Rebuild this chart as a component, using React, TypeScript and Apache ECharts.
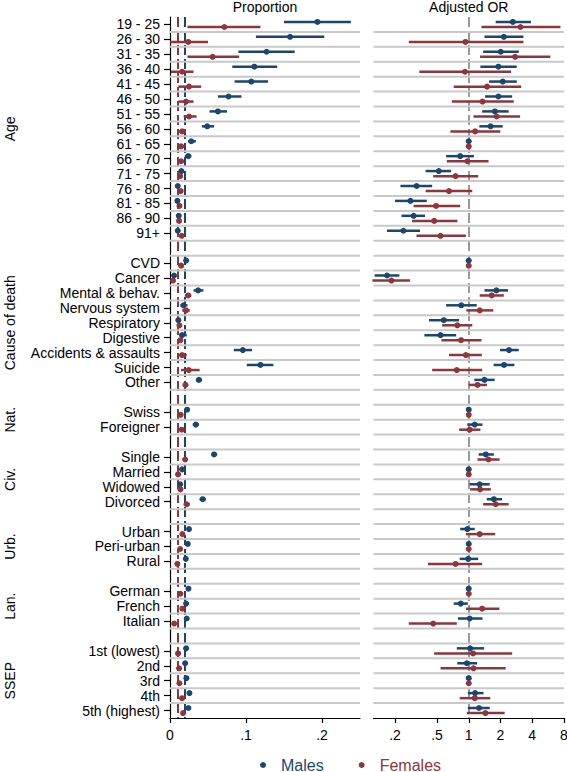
import React, { useEffect, useRef } from 'react';
import * as echarts from 'echarts';

const BLUE = '#1a476f';
const RED = '#90353b';
const GRIDLINE = '#c9c9c9';
const FONT = '"Liberation Sans", Arial, Helvetica, sans-serif';

// ---------- categories ----------
const groupNames = ['Age', 'Cause of death', 'Nat.', 'Civ.', 'Urb.', 'Lan.', 'SSEP'];
const ageLabels = ['19 - 25', '26 - 30', '31 - 35', '36 - 40', '41 - 45', '46 - 50', '51 - 55', '56 - 60',
  '61 - 65', '66 - 70', '71 - 75', '76 - 80', '81 - 85', '86 - 90', '91+'];
const causeLabels = ['CVD', 'Cancer', 'Mental & behav.', 'Nervous system', 'Respiratory', 'Digestive',
  'Accidents & assaults', 'Suicide', 'Other'];
const natLabels = ['Swiss', 'Foreigner'];
const civLabels = ['Single', 'Married', 'Widowed', 'Divorced'];
const urbLabels = ['Urban', 'Peri-urban', 'Rural'];
const lanLabels = ['German', 'French', 'Italian'];
const ssepLabels = ['1st (lowest)', '2nd', '3rd', '4th', '5th (highest)'];

// ---------- proportions [estimate, low, high] ----------
const maleProportion: number[][] = [
  [0.194, 0.150, 0.238], [0.158, 0.113, 0.203], [0.127, 0.090, 0.164], [0.111, 0.082, 0.141],
  [0.107, 0.085, 0.129], [0.077, 0.063, 0.094], [0.063, 0.052, 0.075], [0.049, 0.042, 0.058],
  [0.028, 0.024, 0.034], [0.024, 0.0195, 0.028], [0.015, 0.012, 0.0185], [0.0102, 0.009, 0.0115],
  [0.0097, 0.0087, 0.0107], [0.0115, 0.010, 0.013], [0.0102, 0.008, 0.0125],
  [0.0212, 0.020, 0.0225], [0.0053, 0.0045, 0.0062], [0.037, 0.031, 0.044], [0.0177, 0.0137, 0.023],
  [0.011, 0.0095, 0.0125], [0.0159, 0.0124, 0.022], [0.0958, 0.084, 0.108], [0.119, 0.101, 0.136],
  [0.038, 0.034, 0.042],
  [0.0225, 0.0218, 0.0232], [0.034, 0.030, 0.038],
  [0.058, 0.055, 0.062], [0.0159, 0.015, 0.017], [0.0133, 0.012, 0.0145], [0.043, 0.039, 0.047],
  [0.025, 0.024, 0.026], [0.0234, 0.022, 0.025], [0.0208, 0.0195, 0.022],
  [0.0243, 0.0235, 0.025], [0.0212, 0.019, 0.023], [0.022, 0.019, 0.025],
  [0.0212, 0.019, 0.024], [0.0199, 0.0185, 0.0215], [0.0216, 0.020, 0.023], [0.0256, 0.0235, 0.028],
  [0.0243, 0.022, 0.027],
];
const femaleProportion: number[][] = [
  [0.0715, 0.023, 0.119], [0.024, 0.0, 0.050], [0.056, 0.023, 0.091], [0.016, 0.001, 0.031],
  [0.025, 0.011, 0.041], [0.021, 0.011, 0.031], [0.025, 0.018, 0.035], [0.016, 0.011, 0.021],
  [0.0146, 0.011, 0.0185], [0.0146, 0.0115, 0.018], [0.0133, 0.011, 0.016], [0.0141, 0.0125, 0.016],
  [0.0124, 0.011, 0.014], [0.0119, 0.010, 0.014], [0.0155, 0.013, 0.018],
  [0.0146, 0.0135, 0.016], [0.004, 0.003, 0.005], [0.024, 0.0195, 0.028], [0.021, 0.016, 0.026],
  [0.0124, 0.010, 0.015], [0.0137, 0.011, 0.017], [0.0159, 0.012, 0.022], [0.0247, 0.0146, 0.039],
  [0.0203, 0.017, 0.024],
  [0.0141, 0.0135, 0.0147], [0.0155, 0.0125, 0.019],
  [0.0199, 0.017, 0.023], [0.0106, 0.0095, 0.0118], [0.0137, 0.0125, 0.015], [0.022, 0.018, 0.026],
  [0.0163, 0.0145, 0.019], [0.0133, 0.012, 0.015], [0.0097, 0.008, 0.012],
  [0.0137, 0.013, 0.0145], [0.0163, 0.015, 0.018], [0.0055, 0.0045, 0.0067],
  [0.0106, 0.009, 0.013], [0.0119, 0.0105, 0.0135], [0.0124, 0.011, 0.014], [0.0159, 0.014, 0.018],
  [0.0172, 0.0145, 0.020],
];
const maleOverall = 0.0238;
const femaleOverall = 0.0146;

// ---------- adjusted odds ratios [estimate, low, high] ----------
const maleOR: number[][] = [
  [2.62, 1.80, 3.89], [2.15, 1.41, 3.30], [2.01, 1.37, 2.98], [1.91, 1.29, 2.85],
  [2.10, 1.56, 2.85], [1.91, 1.43, 2.58], [1.77, 1.34, 2.39], [1.61, 1.26, 2.10],
  [1, 1, 1], [0.83, 0.61, 1.12], [0.52, 0.39, 0.68], [0.32, 0.225, 0.45],
  [0.28, 0.20, 0.40], [0.30, 0.23, 0.385], [0.24, 0.168, 0.345],
  [1, 1, 1], [0.168, 0.128, 0.22], [1.83, 1.41, 2.36], [0.85, 0.61, 1.19],
  [0.58, 0.42, 0.81], [0.54, 0.38, 0.76], [2.41, 1.98, 2.98], [2.16, 1.72, 2.71],
  [1.41, 1.13, 1.76],
  [1, 1, 1], [1.14, 0.97, 1.35],
  [1.45, 1.24, 1.73], [1, 1, 1], [1.27, 1.02, 1.58], [1.73, 1.48, 2.07],
  [0.97, 0.83, 1.14], [1, 1, 1], [0.99, 0.82, 1.23],
  [1, 1, 1], [0.84, 0.72, 0.98], [1.02, 0.79, 1.35],
  [1.03, 0.77, 1.40], [0.96, 0.78, 1.20], [1, 1, 1], [1.15, 0.98, 1.38], [1.25, 0.98, 1.58],
];
const femaleOR: number[][] = [
  [3.09, 1.32, 7.4], [0.93, 0.27, 3.30], [2.75, 1.28, 5.94], [0.92, 0.34, 2.52],
  [1.49, 0.72, 3.14], [1.35, 0.69, 2.67], [1.84, 1.11, 3.07], [1.15, 0.67, 1.99],
  [1, 1, 1], [0.97, 0.62, 1.54], [0.75, 0.46, 1.23], [0.65, 0.39, 1.08],
  [0.49, 0.30, 0.83], [0.47, 0.29, 0.78], [0.54, 0.32, 0.94],
  [1, 1, 1], [0.185, 0.122, 0.277], [1.65, 1.27, 2.15], [1.27, 0.95, 1.71],
  [0.78, 0.56, 1.08], [0.845, 0.55, 1.32], [0.94, 0.65, 1.33], [0.77, 0.45, 1.34],
  [1.21, 1.0, 1.49],
  [1, 1, 1], [1.02, 0.81, 1.29],
  [1.54, 1.21, 1.96], [1, 1, 1], [1.28, 1.03, 1.62], [1.80, 1.37, 2.39],
  [1.27, 0.94, 1.78], [1, 1, 1], [0.75, 0.41, 1.34],
  [1, 1, 1], [1.34, 0.94, 1.95], [0.46, 0.27, 0.77],
  [1.10, 0.47, 2.58], [1.11, 0.54, 2.24], [1, 1, 1], [1.14, 0.82, 1.60], [1.44, 0.96, 2.19],
];

// ---------- axes and tick labels ----------
const proportionRange = [0, 0.25];
const orRange = [0.125, 8];
const proportionTicks = [0, 0.1, 0.2];
const orTicks = [0.2, 0.5, 1, 2, 4, 8];
const legendNames = ['Males', 'Females'];
const panelTitles = ['Proportion', 'Adjusted OR'];

// ---------- row layout built from categories ----------
const groups = [ageLabels, causeLabels, natLabels, civLabels, urbLabels, lanLabels, ssepLabels];
const rowLabel: Record<number, string> = {};
const rowIndex: number[] = [];
const groupSpans: { name: string; center: number }[] = [];
let rc = 0;
groups.forEach((labels, gi) => {
  const start = rc;
  labels.forEach((l) => {
    rowLabel[rc] = l;
    rowIndex.push(rc);
    rc++;
  });
  groupSpans.push({ name: groupNames[gi], center: (start + rc - 1) / 2 });
  rc++;
});
const nRows = rc - 1;
const rowBoundaries: number[] = [];
for (let i = 0; i < nRows - 1; i++) rowBoundaries.push(i + 0.5);
const OFFSET = 0.17;

const fmtDec = (v: number) => (v === 0 ? '0' : v < 1 ? String(v).replace(/^0/, '') : String(v));

const segRender = (color: string, width: number) => (params: any, api: any) => {
  const y = api.value(2);
  const p1 = api.coord([api.value(0), y]);
  const p2 = api.coord([api.value(1), y]);
  return {
    type: 'line',
    shape: { x1: p1[0], y1: p1[1], x2: p2[0], y2: p2[1] },
    style: { stroke: color, lineWidth: width },
  };
};

export default function App() {
  const ref = useRef<HTMLDivElement>(null);
  useEffect(() => {
    if (!ref.current) return;
    const chart = echarts.init(ref.current, null, { renderer: 'svg' });
    const yRange = { min: -0.5, max: nRows - 0.5 };
    const labelStyle = { fontSize: 14, color: '#000', fontFamily: FONT };
    const refLine = (value: number, color: string, width: number) => ({
      silent: true, symbol: ['none', 'none'], label: { show: false }, z: 1,
      lineStyle: { color, width, type: [10, 4] },
      emphasis: { disabled: true },
      data: [{ xAxis: value }],
    });
    const mk = (vals: number[][], idx: number) => vals.map((d, i) => [d[0], rowIndex[i] + idx * OFFSET]);
    const mkCI = (vals: number[][], idx: number) => vals.map((d, i) => [d[1], d[2], rowIndex[i] + idx * OFFSET]);

    const gridSeries = (grid: number, range: number[]) => ({
      type: 'custom', name: 'Row lines ' + grid, xAxisIndex: grid, yAxisIndex: grid, silent: true, z: 1,
      renderItem: segRender(GRIDLINE, 2), encode: { x: [0, 1], y: 2 },
      data: rowBoundaries.map((b) => [range[0], range[1], b]), clip: false,
    });
    const ciSeries = (name: string, vals: number[][], idx: number, color: string, grid: number) => ({
      type: 'custom', name, xAxisIndex: grid, yAxisIndex: grid, silent: true, z: 3,
      renderItem: segRender(color, 2.5), encode: { x: [0, 1], y: 2 }, data: mkCI(vals, idx), clip: false,
    });
    const dotSeries = (name: string, vals: number[][], idx: number, color: string, grid: number, markLine?: any) => ({
      type: 'scatter', name, xAxisIndex: grid, yAxisIndex: grid, silent: true, z: 4,
      symbol: 'circle', symbolSize: 6, itemStyle: { color, opacity: 1 },
      data: mk(vals, idx), markLine,
    });

    chart.setOption({
      animation: false,
      backgroundColor: '#fff',
      grid: [
        { left: 170, top: 17, width: 190, bottom: 54, containLabel: false, outerBoundsMode: 'none' },
        { left: 373.5, top: 17, width: 190.5, bottom: 54, containLabel: false, outerBoundsMode: 'none' },
      ],
      xAxis: [
        {
          type: 'value', gridIndex: 0, min: proportionRange[0], max: proportionRange[1], position: 'bottom',
          axisLine: { show: true, onZero: false, lineStyle: { color: '#000', width: 1.2 } },
          axisTick: { show: true, customValues: proportionTicks, length: 5, lineStyle: { color: '#000', width: 1.2 } },
          axisLabel: { customValues: proportionTicks, formatter: fmtDec, margin: 10, hideOverlap: false, ...labelStyle },
          splitLine: { show: false },
        },
        {
          type: 'log', logBase: 2, gridIndex: 1, min: orRange[0], max: orRange[1], position: 'bottom',
          axisLine: { show: true, onZero: false, lineStyle: { color: '#000', width: 1.2 } },
          axisTick: { show: true, customValues: orTicks, length: 5, lineStyle: { color: '#000', width: 1.2 } },
          axisLabel: { customValues: orTicks, formatter: fmtDec, margin: 10, hideOverlap: false, ...labelStyle },
          splitLine: { show: false },
        },
      ],
      yAxis: [
        {
          type: 'value', gridIndex: 0, inverse: true, ...yRange, position: 'left',
          axisLine: { show: true, onZero: false, lineStyle: { color: '#000', width: 1.2 } },
          axisTick: { show: true, customValues: rowIndex, length: 6, lineStyle: { color: '#000', width: 1.2 } },
          axisLabel: {
            customValues: rowIndex, formatter: (v: number) => rowLabel[Math.round(v)] ?? '',
            margin: 10, hideOverlap: false, ...labelStyle,
          },
          splitLine: { show: false },
        },
        {
          type: 'value', gridIndex: 1, inverse: true, ...yRange, position: 'left',
          axisLine: { show: false }, axisTick: { show: false }, axisLabel: { show: false },
          splitLine: { show: false },
        },
      ],
      legend: {
        show: true, left: 255, top: 752, orient: 'horizontal', icon: 'circle',
        itemWidth: 26, itemHeight: 6, itemGap: 35, selectedMode: false,
        textStyle: { fontSize: 16, fontFamily: FONT },
        data: [
          { name: legendNames[0], textStyle: { color: BLUE } },
          { name: legendNames[1], textStyle: { color: RED } },
        ],
      },
      series: [
        ciSeries('Males CI', maleProportion, -1, BLUE, 0),
        ciSeries('Females CI', femaleProportion, 1, RED, 0),
        dotSeries(legendNames[0], maleProportion, -1, BLUE, 0, refLine(maleOverall, BLUE, 2)),
        dotSeries(legendNames[1], femaleProportion, 1, RED, 0, refLine(femaleOverall, RED, 2)),
        ciSeries('Males OR CI', maleOR, -1, BLUE, 1),
        ciSeries('Females OR CI', femaleOR, 1, RED, 1),
        dotSeries(legendNames[0], maleOR, -1, BLUE, 1, refLine(1, '#9a9a9a', 2)),
        dotSeries(legendNames[1], femaleOR, 1, RED, 1),
        gridSeries(0, proportionRange),
        gridSeries(1, orRange),
      ],
    });

    // group labels and panel titles placed via the chart's own scales
    const graphics: any[] = groupSpans.map((g) => {
      const y = (chart.convertToPixel({ xAxisIndex: 0, yAxisIndex: 0 } as any, [0, g.center]) as number[])[1];
      return {
        type: 'text', x: 9.5, y, rotation: Math.PI / 2, silent: true,
        style: { text: g.name, align: 'center', verticalAlign: 'middle', fontSize: 14, fontFamily: FONT, fill: '#000' },
      };
    });
    const xl = chart.convertToPixel({ xAxisIndex: 0, yAxisIndex: 0 } as any, [0.125, 0]) as number[];
    const xr = chart.convertToPixel({ xAxisIndex: 1, yAxisIndex: 1 } as any, [1, 0]) as number[];
    [xl[0], xr[0]].forEach((x, i) => {
      graphics.push({
        type: 'text', x, y: 0, silent: true,
        style: { text: panelTitles[i], align: 'center', verticalAlign: 'top', fontSize: 14, fontFamily: FONT, fill: '#000' },
      });
    });
    chart.setOption({ graphic: graphics });

    return () => chart.dispose();
  }, []);
  return (
    <div
      ref={ref}
      style={{ position: 'absolute', left: 0, top: 0, width: 567, height: 772, background: '#fff' }}
    />
  );
}
